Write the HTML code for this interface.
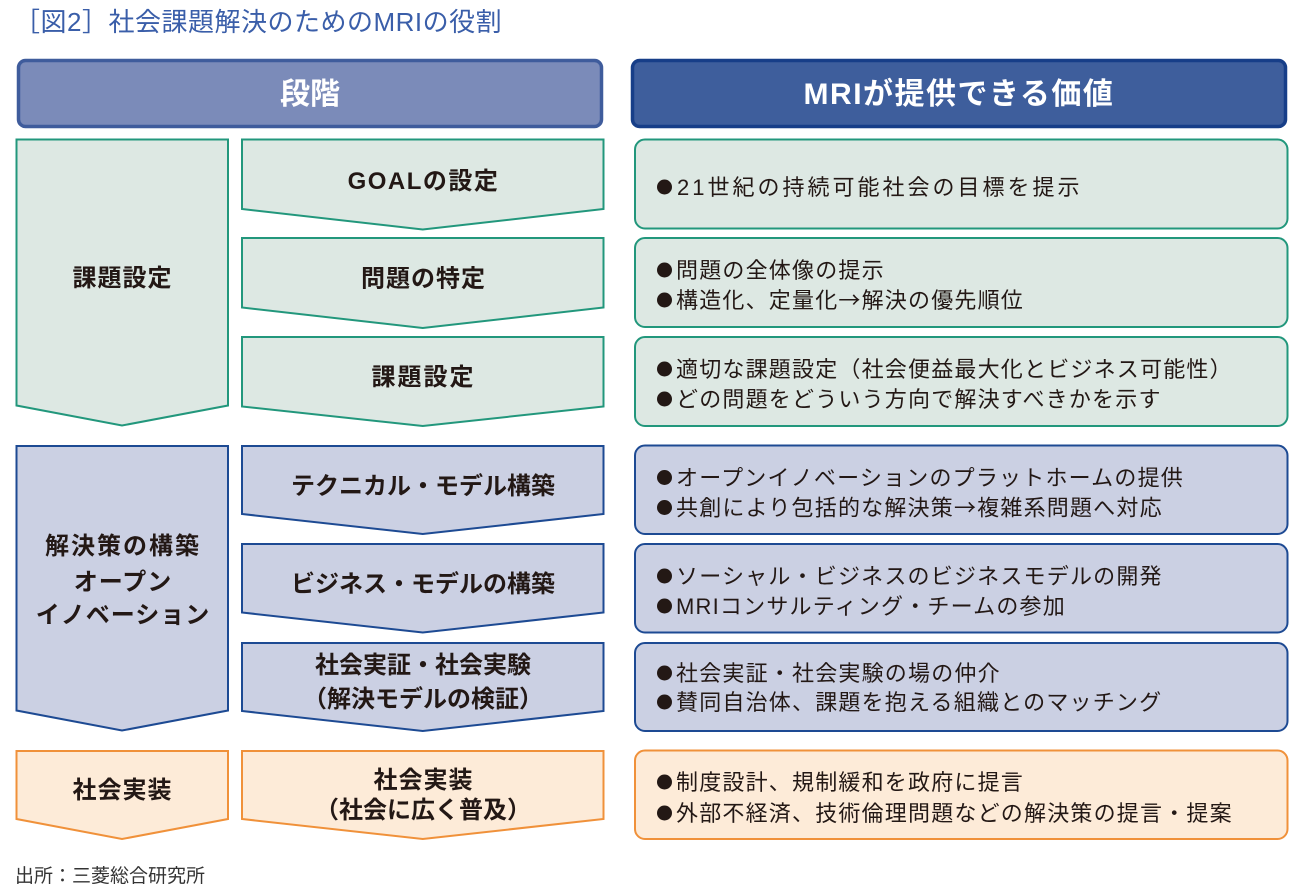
<!DOCTYPE html>
<html><head><meta charset="utf-8">
<style>
html,body{margin:0;padding:0;background:#fff;}
body{width:1300px;height:890px;overflow:hidden;}
svg{display:block;}
text{font-family:"Liberation Sans","Noto Sans CJK JP",sans-serif;fill:#231815;}
.t{font-size:26px;fill:#3a5ea9;letter-spacing:0.5px;}
.h{font-size:30px;font-weight:bold;fill:#fff;}
.lb{font-size:24px;font-weight:bold;letter-spacing:1px;}
.rt{font-size:22px;letter-spacing:1.2px;}
.ft{font-size:19px;fill:#333;}
.ar{font-family:"Noto Sans CJK JP",sans-serif;}
</style></head><body>
<svg width="1300" height="890" viewBox="0 0 1300 890" xmlns="http://www.w3.org/2000/svg">
<text class="t" x="14" y="31">［図2］社会課題解決のためのMRIの役割</text>

<!-- headers -->
<rect x="18.5" y="60.5" width="583" height="66" rx="7" fill="#7b8bb9" stroke="#3f5c9c" stroke-width="3.5"/>
<text class="h" x="310" y="104" text-anchor="middle">段階</text>
<rect x="632.5" y="60.5" width="653" height="66" rx="7" fill="#3e5e9c" stroke="#173e88" stroke-width="3.5"/>
<text class="h" x="959" y="104" text-anchor="middle" style="letter-spacing:1.5px">MRIが提供できる価値</text>

<!-- GREEN group -->
<g fill="#dde8e3" stroke="#22977c" stroke-width="2">
<polygon points="16.5,139.5 228,139.5 228,405.5 122,425.5 16.5,405.5"/>
<polygon points="242,139.5 603.5,139.5 603.5,209 422.75,229.5 242,209"/>
<polygon points="242,238 603.5,238 603.5,307.5 422.75,328 242,307.5"/>
<polygon points="242,337 603.5,337 603.5,406.5 422.75,426 242,406.5"/>
<rect x="635" y="139.5" width="652.5" height="89" rx="10"/>
<rect x="635" y="238" width="652.5" height="89" rx="10"/>
<rect x="635" y="337" width="652.5" height="89" rx="10"/>
</g>

<!-- BLUE group -->
<g fill="#cbd0e3" stroke="#1d4a93" stroke-width="2">
<polygon points="16.5,446 228,446 228,710.5 122,730.5 16.5,710.5"/>
<polygon points="242,446 603.5,446 603.5,514 422.75,534 242,514"/>
<polygon points="242,544 603.5,544 603.5,612.5 422.75,632.5 242,612.5"/>
<polygon points="242,643 603.5,643 603.5,711 422.75,731 242,711"/>
<rect x="635" y="445.5" width="652.5" height="88.5" rx="10"/>
<rect x="635" y="544" width="652.5" height="88.5" rx="10"/>
<rect x="635" y="643" width="652.5" height="88" rx="10"/>
</g>

<!-- ORANGE group -->
<g fill="#fdebd8" stroke="#f0913a" stroke-width="2">
<polygon points="16.5,751 228,751 228,819 122,839 16.5,819"/>
<polygon points="242,751 603.5,751 603.5,819 422.75,839 242,819"/>
<rect x="635" y="750.5" width="652.5" height="88.5" rx="10"/>
</g>

<!-- left column labels -->
<text class="lb" x="122.5" y="286" text-anchor="middle">課題設定</text>
<text class="lb" x="123" y="554" text-anchor="middle" style="letter-spacing:2px">解決策の構築</text>
<text class="lb" x="123" y="590" text-anchor="middle">オープン</text>
<text class="lb" x="123" y="623" text-anchor="middle">イノベーション</text>
<text class="lb" x="122.5" y="798" text-anchor="middle">社会実装</text>

<!-- second column labels -->
<text class="lb" x="423.5" y="189" text-anchor="middle" style="letter-spacing:1.5px">GOALの設定</text>
<text class="lb" x="423.5" y="286.5" text-anchor="middle">問題の特定</text>
<text class="lb" x="423.5" y="385" text-anchor="middle" style="letter-spacing:2px">課題設定</text>
<text class="lb" x="423" y="494" text-anchor="middle" style="letter-spacing:0px">テクニカル・モデル構築</text>
<text class="lb" x="423" y="592" text-anchor="middle" style="letter-spacing:0px">ビジネス・モデルの構築</text>
<text class="lb" x="423" y="673" text-anchor="middle" style="letter-spacing:0px">社会実証・社会実験</text>
<text class="lb" x="423" y="707" text-anchor="middle" style="letter-spacing:0px">（解決モデルの検証）</text>
<text class="lb" x="423.5" y="788" text-anchor="middle">社会実装</text>
<text class="lb" x="423" y="818" text-anchor="middle" style="letter-spacing:0px">（社会に広く普及）</text>

<!-- bullets -->
<g fill="#231815">
<circle cx="664.5" cy="187" r="7.5"/>
<circle cx="664.5" cy="270" r="7.5"/><circle cx="664.5" cy="300" r="7.5"/>
<circle cx="664.5" cy="369" r="7.5"/><circle cx="664.5" cy="399" r="7.5"/>
<circle cx="664.5" cy="477.5" r="7.5"/><circle cx="664.5" cy="507.5" r="7.5"/>
<circle cx="664.5" cy="576" r="7.5"/><circle cx="664.5" cy="606" r="7.5"/>
<circle cx="664.5" cy="673" r="7.5"/><circle cx="664.5" cy="702" r="7.5"/>
<circle cx="664.5" cy="782" r="7.5"/><circle cx="664.5" cy="813" r="7.5"/>
</g>

<!-- right texts -->
<text class="rt" x="677" y="195" style="letter-spacing:3px">21世紀の持続可能社会の目標を提示</text>
<text class="rt" x="676" y="278">問題の全体像の提示</text>
<text class="rt" x="676" y="308">構造化、定量化<tspan class="ar">→</tspan>解決の優先順位</text>
<text class="rt" x="676" y="377">適切な課題設定（社会便益最大化とビジネス可能性）</text>
<text class="rt" x="676" y="407">どの問題をどういう方向で解決すべきかを示す</text>
<text class="rt" x="676" y="485.5">オープンイノベーションのプラットホームの提供</text>
<text class="rt" x="676" y="515.5">共創により包括的な解決策<tspan class="ar">→</tspan>複雑系問題へ対応</text>
<text class="rt" x="676" y="584">ソーシャル・ビジネスのビジネスモデルの開発</text>
<text class="rt" x="676" y="614">MRIコンサルティング・チームの参加</text>
<text class="rt" x="676" y="681">社会実証・社会実験の場の仲介</text>
<text class="rt" x="676" y="710">賛同自治体、課題を抱える組織とのマッチング</text>
<text class="rt" x="676" y="790">制度設計、規制緩和を政府に提言</text>
<text class="rt" x="676" y="821">外部不経済、技術倫理問題などの解決策の提言・提案</text>

<text class="ft" x="15" y="882">出所：三菱総合研究所</text>
</svg>
</body></html>
